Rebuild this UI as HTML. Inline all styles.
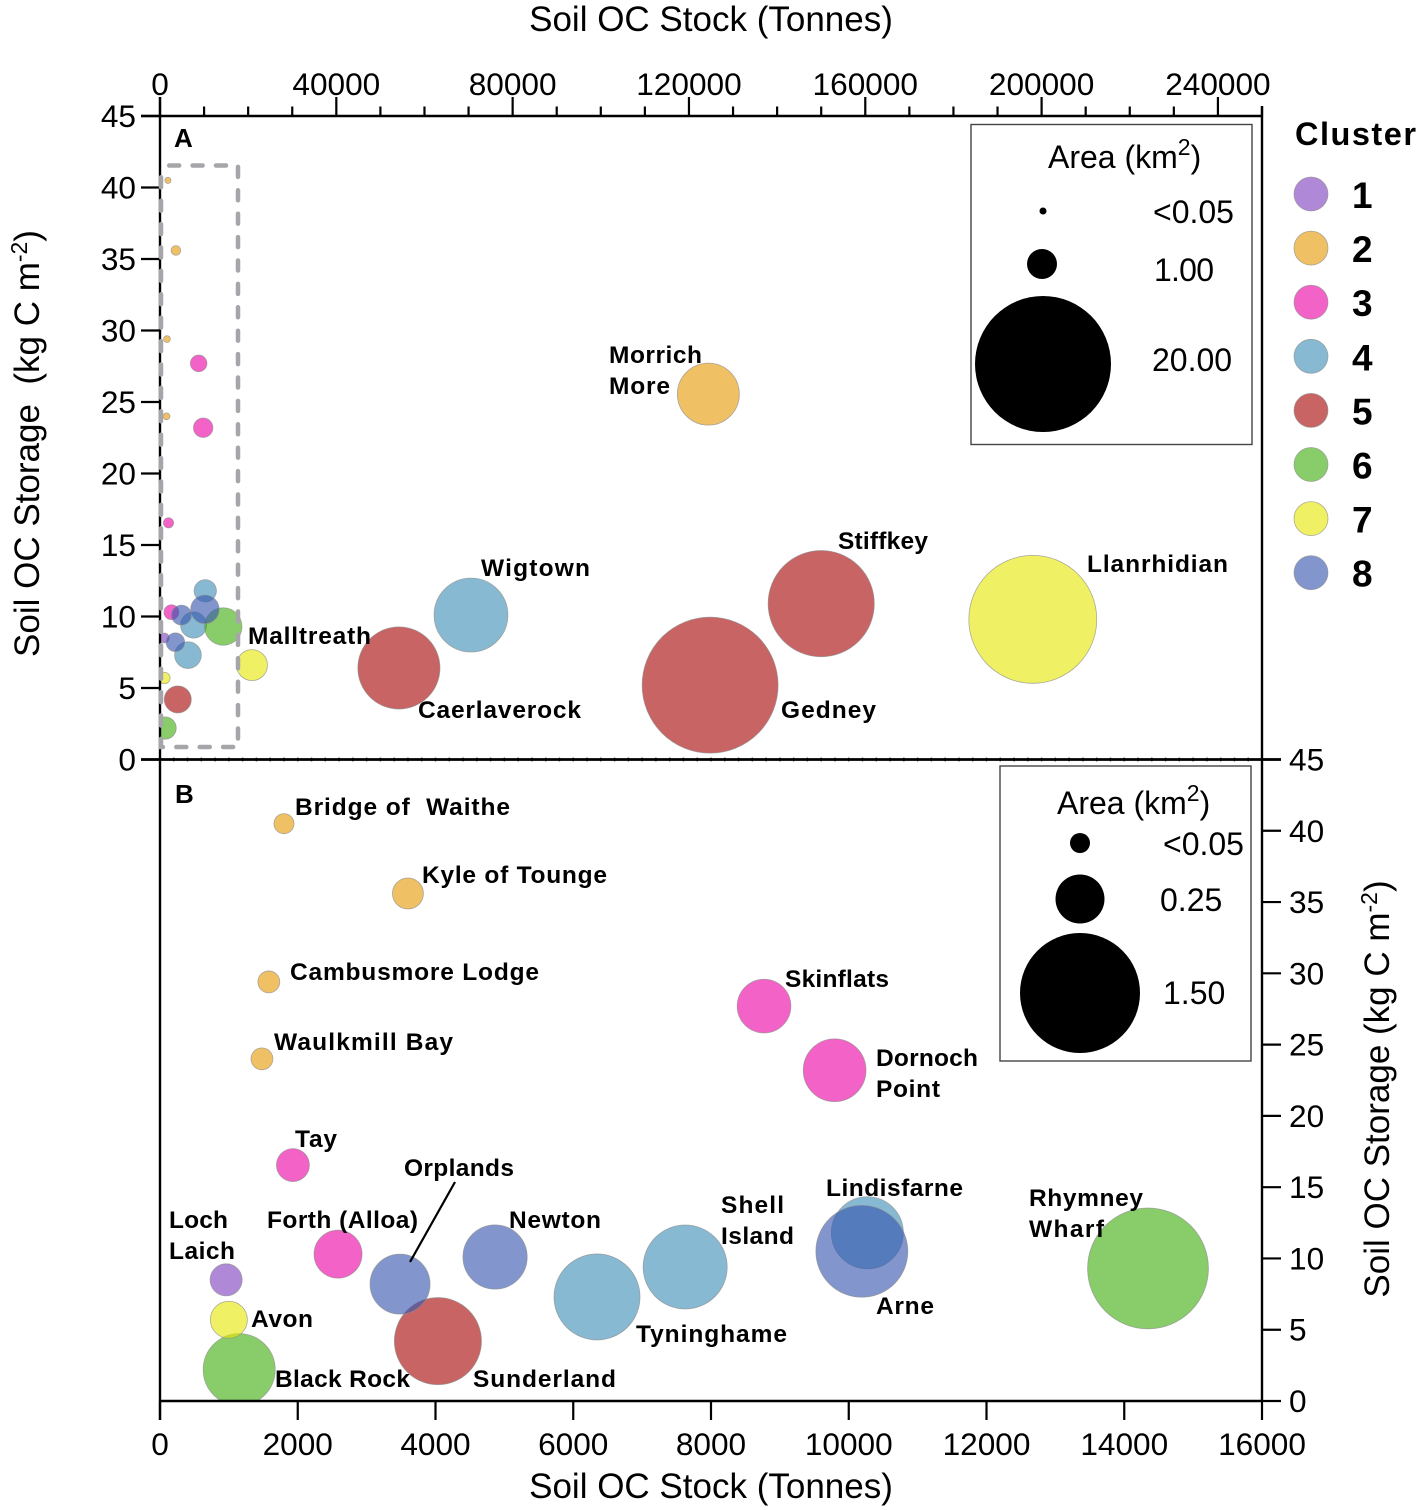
<!DOCTYPE html>
<html lang="en">
<head>
<meta charset="utf-8">
<title>Soil OC Stock and Storage bubble chart</title>
<style>
html,body{margin:0;padding:0;background:#fff;}
svg{display:block;}
text{font-family:"Liberation Sans",Arial,sans-serif;fill:#000;}
.tick{font-size:31.6px;}
.title{font-size:35px;}
.lab{font-size:24.5px;font-weight:bold;}
.leg{font-size:32px;}
</style>
</head>
<body>
<svg id="chart" width="1417" height="1510" viewBox="0 0 1417 1510" xmlns="http://www.w3.org/2000/svg">
  <defs>
    <clipPath id="clipA"><rect x="160" y="116" width="1102" height="644"/></clipPath>
    <clipPath id="clipB"><rect x="160" y="760" width="1102" height="641"/></clipPath>
  </defs>
  <g id="marksA" clip-path="url(#clipA)"></g>
  <g id="marksB" clip-path="url(#clipB)"></g>
  <g id="axes"></g>
  <path d="M169.2,165.5 H238 V747 H161 V165.5" fill="none" stroke="#a6a6aa" stroke-width="4.5" stroke-dasharray="10 13.4" stroke-linecap="round"/>

  <text class="title" x="711" y="31" text-anchor="middle">Soil OC Stock (Tonnes)</text>
  <text class="title" x="711" y="1498" text-anchor="middle">Soil OC Stock (Tonnes)</text>
  <text class="title" transform="translate(39,443.5) rotate(-90)" text-anchor="middle" xml:space="preserve">Soil OC Storage  (kg C m<tspan font-size="23" dy="-12">-2</tspan><tspan dy="12">)</tspan></text>
  <text class="title" transform="translate(1389,1089) rotate(-90)" text-anchor="middle">Soil OC Storage (kg C m<tspan font-size="23" dy="-12">-2</tspan><tspan dy="12">)</tspan></text>

  <text x="174" y="147" font-size="26" font-weight="bold">A</text>
  <text x="175" y="803" font-size="26" font-weight="bold">B</text>

  <g>
    <text class="lab" x="609" y="363" textLength="93">Morrich</text>
    <text class="lab" x="609" y="394" textLength="61">More</text>
    <text class="lab" x="481" y="576" textLength="109">Wigtown</text>
    <text class="lab" x="838" y="549" textLength="90">Stiffkey</text>
    <text class="lab" x="1087" y="572" textLength="141">Llanrhidian</text>
    <text class="lab" x="248" y="644" textLength="123">Malltreath</text>
    <text class="lab" x="418" y="718" textLength="163">Caerlaverock</text>
    <text class="lab" x="781" y="718" textLength="95">Gedney</text>
  </g>
  <g>
    <text class="lab" x="295" y="815" xml:space="preserve" textLength="215">Bridge of  Waithe</text>
    <text class="lab" x="422" y="883" textLength="185">Kyle of Tounge</text>
    <text class="lab" x="290" y="980" textLength="249">Cambusmore Lodge</text>
    <text class="lab" x="274" y="1050" textLength="179">Waulkmill Bay</text>
    <text class="lab" x="785" y="987" textLength="104">Skinflats</text>
    <text class="lab" x="876" y="1066" textLength="102">Dornoch</text>
    <text class="lab" x="876" y="1097" textLength="64">Point</text>
    <text class="lab" x="295" y="1147" textLength="42">Tay</text>
    <text class="lab" x="404" y="1176" textLength="110">Orplands</text>
    <line x1="455" y1="1182" x2="410" y2="1262" stroke="#000" stroke-width="2.2"/>
    <text class="lab" x="509" y="1228" textLength="92">Newton</text>
    <text class="lab" x="721" y="1213" textLength="63">Shell</text>
    <text class="lab" x="721" y="1244" textLength="73">Island</text>
    <text class="lab" x="826" y="1196" textLength="137">Lindisfarne</text>
    <text class="lab" x="1029" y="1206" textLength="114">Rhymney</text>
    <text class="lab" x="1029" y="1237" textLength="75">Wharf</text>
    <text class="lab" x="169" y="1228" textLength="59">Loch</text>
    <text class="lab" x="169" y="1259" textLength="66">Laich</text>
    <text class="lab" x="267" y="1228" textLength="151">Forth (Alloa)</text>
    <text class="lab" x="251" y="1327" textLength="62">Avon</text>
    <text class="lab" x="275" y="1387" textLength="135">Black Rock</text>
    <text class="lab" x="473" y="1387" textLength="143">Sunderland</text>
    <text class="lab" x="636" y="1342" textLength="151">Tyninghame</text>
    <text class="lab" x="876" y="1314" textLength="58">Arne</text>
  </g>

  <g>
    <rect x="971" y="124.5" width="281" height="320" fill="#fff" stroke="#444" stroke-width="1.4"/>
    <text class="leg" x="1048" y="168">Area (km<tspan font-size="23" dy="-13">2</tspan><tspan dy="13">)</tspan></text>
    <circle cx="1043" cy="211" r="3.5" fill="#000"/>
    <circle cx="1042" cy="264" r="15" fill="#000"/>
    <circle cx="1043" cy="364" r="68" fill="#000"/>
    <text class="leg" x="1153" y="223">&lt;0.05</text>
    <text class="leg" x="1154" y="281" textLength="60">1.00</text>
    <text class="leg" x="1152" y="371">20.00</text>
  </g>
  <g>
    <rect x="1000" y="766" width="251" height="295" fill="#fff" stroke="#444" stroke-width="1.4"/>
    <text class="leg" x="1057" y="814">Area (km<tspan font-size="23" dy="-13">2</tspan><tspan dy="13">)</tspan></text>
    <circle cx="1080" cy="843" r="10" fill="#000"/>
    <circle cx="1080" cy="899" r="24.5" fill="#000"/>
    <circle cx="1080" cy="993" r="60" fill="#000"/>
    <text class="leg" x="1163" y="855">&lt;0.05</text>
    <text class="leg" x="1160" y="911">0.25</text>
    <text class="leg" x="1163" y="1004">1.50</text>
  </g>

  <text x="1295" y="145" font-size="32.5" font-weight="bold" letter-spacing="1.5">Cluster</text>
  <g id="clusterLegend"></g>
</svg>

<script>
// ---- Data ----
const siteNames = ["Loch Laich","Bridge of Waithe","Kyle of Tounge","Cambusmore Lodge","Waulkmill Bay","Morrich More","Tay","Skinflats","Dornoch Point","Forth (Alloa)","Tyninghame","Shell Island","Lindisfarne","Wigtown","Sunderland","Caerlaverock","Gedney","Stiffkey","Black Rock","Rhymney Wharf","Avon","Malltreath","Llanrhidian","Orplands","Newton","Arne"];
const siteClusters = [1,2,2,2,2,2,3,3,3,3,4,4,4,4,5,5,5,5,6,6,7,7,7,8,8,8];
const socStock = [960,1800,3600,1580,1480,124400,1930,8770,9795,2585,6345,7625,10270,70550,4035,54200,124800,150000,1150,14345,1000,20870,198000,3485,4865,10190];
const socStorage = [8.5,40.5,35.6,29.4,24,25.55,16.55,27.7,23.2,10.3,7.3,9.4,11.8,10.1,4.2,6.4,5.2,10.9,2.2,9.3,5.7,6.6,9.8,8.2,10.1,10.5];
const siteArea = [0.107,0.042,0.1,0.05,0.05,4.16,0.113,0.3,0.41,0.24,0.77,0.735,0.54,5.9,0.79,7.3,20,12.2,0.54,1.52,0.143,1.04,17.7,0.375,0.43,0.88];
const clusterLabels = [1,2,3,4,5,6,7,8];
const clusterColors = ["rgb(128,63,192)","rgb(231,153,5)","rgb(236,2,163)","rgb(61,142,182)","rgb(166,5,5)","rgb(63,174,14)","rgb(231,231,5)","rgb(53,86,174)"];
const topXTicks = [0,40000,80000,120000,160000,200000,240000];
const bottomXTicks = [0,2000,4000,6000,8000,10000,12000,14000,16000];
const yTicks = [0,5,10,15,20,25,30,35,40,45];

// ---- Scales ----
const xA = v => 160 + v * 1102 / 250000;
const xB = v => 160 + v * 1102 / 16000;
const yA = v => 759.5 - v * 643.5 / 45;
const yB = v => 1401 - v * 641.5 / 45;
const rA = a => 15.2 * Math.sqrt(a);
const rB = a => 49 * Math.sqrt(a);

const NS = "http://www.w3.org/2000/svg";
function make(tag, attrs, parent) {
  const el = document.createElementNS(NS, tag);
  for (const k in attrs) el.setAttribute(k, attrs[k]);
  parent.appendChild(el);
  return el;
}
const slug = s => String(s).toLowerCase().replace(/[^a-z0-9]+/g, "-").replace(/^-|-$/g, "");

// ---- Bubbles ----
function drawBubbles(parent, sx, sy, sr, prefix, keep) {
  siteNames.forEach((name, i) => {
    if (!keep(i)) return;
    const el = make("circle", {
      cx: sx(socStock[i]), cy: sy(socStorage[i]), r: sr(siteArea[i]),
      fill: clusterColors[siteClusters[i] - 1], "fill-opacity": 0.62,
      stroke: "#8c8c8c", "stroke-opacity": 0.7, "stroke-width": 0.8
    }, parent);
    
    
  });
}
drawBubbles(document.getElementById("marksA"), xA, yA, rA, "panel-a", () => true);
drawBubbles(document.getElementById("marksB"), xB, yB, rB, "panel-b", i => socStock[i] <= 16000);

// ---- Axes ----
const axes = document.getElementById("axes");
function line(x1, y1, x2, y2, w, name) {
  const el = make("line", {x1, y1, x2, y2, stroke: "#000", "stroke-width": w}, axes);
  
  
}
function label(x, y, text, anchor, name) {
  const el = make("text", {x, y, "text-anchor": anchor, class: "tick"}, axes);
  el.textContent = text;
  
  
}
line(141, 116, 1263, 116, 2.6, "top-axis-line");
line(141, 759.5, 1281, 759.5, 2.8, "middle-axis-line");
line(160, 1401, 1262, 1401, 2.4, "bottom-axis-line");
line(160, 97, 160, 1420, 2.4, "left-axis-line");
line(1262, 106, 1262, 1401, 2.4, "right-axis-line");

for (let v = 0; v <= 250000; v += 10000) {
  const major = topXTicks.indexOf(v) >= 0;
  line(xA(v), 116, xA(v), major ? 97 : 106.5, 2.2, "top-x-tick-" + v);
}
topXTicks.forEach(v => label(xA(v), 95, String(v), "middle", "top-x-tick-label-" + v));
bottomXTicks.forEach(v => {
  line(xB(v), 1401, xB(v), 1420, 2.2, "bottom-x-tick-" + v);
  label(xB(v), 1455, String(v), "middle", "bottom-x-tick-label-" + v);
});
for (let v = 200; v < 16000; v += 200) {
  line(xB(v), 757.7, xB(v), 761.3, 1.4, "middle-minor-tick-" + v);
}
yTicks.forEach(v => {
  line(141, yA(v), 160, yA(v), 2.2, "left-y-tick-" + v);
  label(136, yA(v) + 11, String(v), "end", "left-y-tick-label-" + v);
  line(1262, yB(v), 1281, yB(v), 2.2, "right-y-tick-" + v);
  label(1289, yB(v) + 11, String(v), "start", "right-y-tick-label-" + v);
});

// ---- Cluster legend ----
const legendGroup = document.getElementById("clusterLegend");
clusterLabels.forEach((c, i) => {
  const cy = 194 + i * 54.1;
  const dot = make("circle", {cx: 1311, cy, r: 17, fill: clusterColors[i], "fill-opacity": 0.62, stroke: "#8c8c8c", "stroke-opacity": 0.7, "stroke-width": 0.8}, legendGroup);
  
  
  const txt = make("text", {x: 1352, y: cy + 14, "font-size": 37, "font-weight": "bold"}, legendGroup);
  txt.textContent = String(c);
  
  
});
</script>
</body>
</html>
